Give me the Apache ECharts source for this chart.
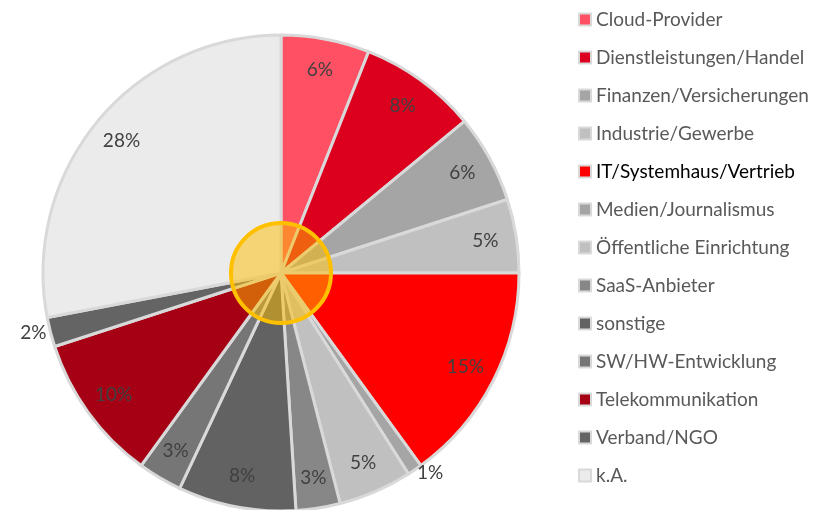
<!DOCTYPE html>
<html>
<head>
<meta charset="utf-8">
<script src="https://cdn.jsdelivr.net/npm/echarts@6/dist/echarts.min.js"></script>
<style>
  html, body { margin: 0; padding: 0; background: #fff; }
  #main { width: 819px; height: 510px; }
</style>
</head>
<body>
<div id="main"></div>
<script>
// Branchen-Verteilung (Anteile in %)
const categories = ['Cloud-Provider', 'Dienstleistungen/Handel', 'Finanzen/Versicherungen', 'Industrie/Gewerbe',
  'IT/Systemhaus/Vertrieb', 'Medien/Journalismus', 'Öffentliche Einrichtung', 'SaaS-Anbieter', 'sonstige',
  'SW/HW-Entwicklung', 'Telekommunikation', 'Verband/NGO', 'k.A.'];
const shares = [6, 8, 6, 5, 15, 1, 5, 3, 8, 3, 10, 2, 28];
const colors = ['#ff5064', '#dc001e', '#a5a5a5', '#c0c0c0', '#ff0000', '#a5a5a5', '#c0c0c0',
  '#878787', '#626262', '#767676', '#a50014', '#646464', '#ebebeb'];
const outsideLabels = ['Medien/Journalismus', 'Verband/NGO'];

const chart = echarts.init(document.getElementById('main'));
const FONT = 'Lato';
const center = [281, 273];

const pieData = categories.map((c, i) => ({ name: c, value: shares[i], itemStyle: { color: colors[i] } }));

// Hilfsring nur für die Beschriftung (Labels weiter außen)
const labelData = categories.map((c, i) => {
  const d = { name: c, value: shares[i] };
  if (outsideLabels.includes(c)) {
    d.label = { position: 'outside', distanceToLabelLine: 0 };
    d.labelLine = { show: false, length: 4, length2: 0 };
  }
  return d;
});

// IT/Systemhaus ist in der Vorlage schwarz hervorgehoben
const legendData = categories.map(c => c === 'IT/Systemhaus/Vertrieb'
  ? { name: c, textStyle: { color: '#000' } } : { name: c });

chart.setOption({
  animation: false,
  legend: {
    orient: 'vertical',
    left: 573,
    top: 5,
    itemWidth: 12,
    itemHeight: 12,
    itemGap: 19,
    icon: 'rect',
    data: legendData,
    itemStyle: { borderColor: '#d9d9d9', borderWidth: 2 },
    textStyle: { fontFamily: FONT, fontSize: 19, color: '#595959', lineHeight: 18 },
    selectedMode: false
  },
  series: [
    {
      type: 'pie',
      center: center,
      radius: [0, 238],
      startAngle: 90,
      data: pieData,
      label: { show: false },
      labelLine: { show: false },
      itemStyle: { borderColor: '#d9d9d9', borderWidth: 3 },
      silent: true
    },
    {
      type: 'pie',
      center: center,
      radius: [170, 238],
      startAngle: 90,
      data: labelData,
      itemStyle: { color: 'rgba(0,0,0,0)' },
      label: {
        show: true,
        position: 'inside',
        formatter: '{c}%',
        fontFamily: FONT,
        fontSize: 19,
        color: '#404040'
      },
      labelLine: { show: false },
      silent: true
    },
    {
      type: 'pie',
      center: center,
      radius: [0, 50],
      data: [{ name: 'Mitte', value: 1 }],
      itemStyle: { color: 'rgba(255,190,0,0.5)', borderColor: '#ffc000', borderWidth: 4 },
      label: { show: false },
      labelLine: { show: false },
      silent: true
    }
  ]
});
</script>
</body>
</html>
